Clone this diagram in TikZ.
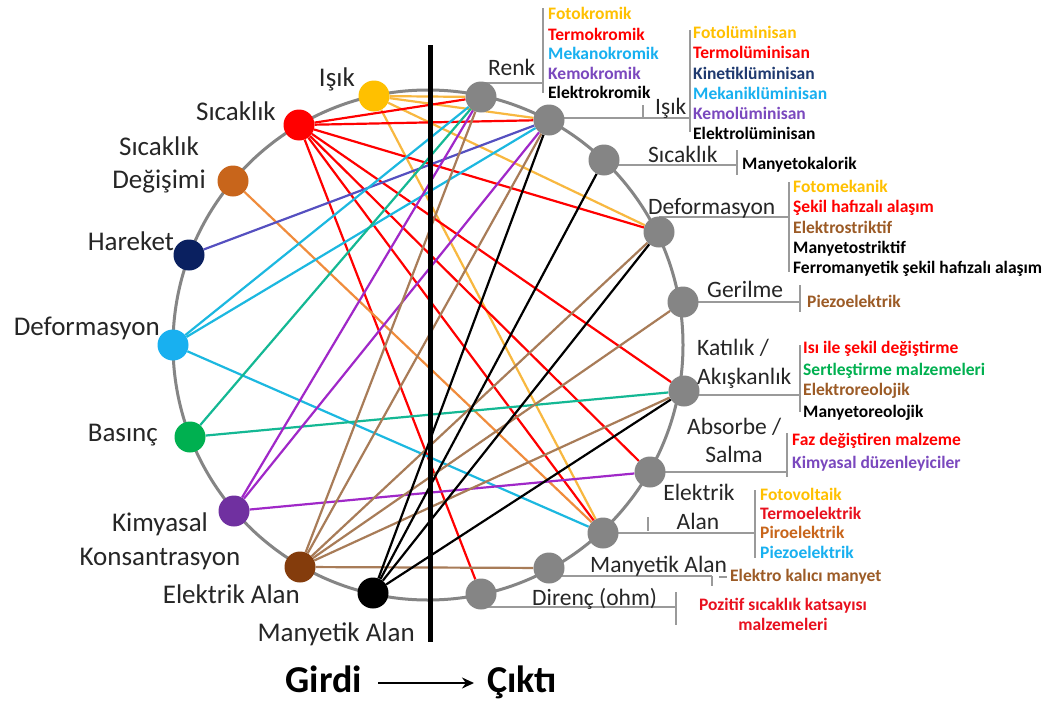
\documentclass[tikz,border=0pt]{standalone}
\usepackage{fontspec}
\setmainfont{Carlito}
\usetikzlibrary{backgrounds,arrows.meta}
\definecolor{cY}{HTML}{FFC000}
\definecolor{cYl}{HTML}{F8B840}
\definecolor{cR}{HTML}{FF0000}
\definecolor{cRt}{HTML}{E8101E}
\definecolor{cO}{HTML}{C8651B}
\definecolor{cOl}{HTML}{F08C3C}
\definecolor{cNv}{HTML}{0A2060}
\definecolor{cHl}{HTML}{5550C0}
\definecolor{cCy}{HTML}{18B0F0}
\definecolor{cCyl}{HTML}{1CB8E0}
\definecolor{cG}{HTML}{00B050}
\definecolor{cGl}{HTML}{14B894}
\definecolor{cP}{HTML}{7030A0}
\definecolor{cPl}{HTML}{A028C8}
\definecolor{cPt}{HTML}{7A48BE}
\definecolor{cB}{HTML}{843C0C}
\definecolor{cBl}{HTML}{A87C58}
\definecolor{cBt}{HTML}{9C5B26}
\definecolor{cK}{HTML}{1F3A70}
\definecolor{cGr}{HTML}{858585}
\definecolor{cGb}{HTML}{9A9A9A}
\begin{document}
\begin{tikzpicture}[x=1pt,y=-1pt,
  dot/.style={circle,minimum size=31pt,inner sep=0pt,draw=none},
  lab/.style={font=\fontsize{27}{31}\selectfont,inner sep=0pt,text=black!85},
  rlab/.style={font=\fontsize{23.5}{28}\selectfont,inner sep=0pt,text=black!85},
  itm/.style={font=\bfseries\fontsize{17.5}{20}\selectfont,inner sep=0pt,anchor=base west},
  con/.style={line width=2.2pt},
  brk/.style={draw=cGb,line width=2.5pt},
  tick/.style={draw=cGb,line width=1.2pt}]
\useasboundingbox (0,0) rectangle (1052,704);
% ---------- nodes on the circle ----------
\node[dot,fill=cY]  (iIs)  at (374,96)  {};
\node[dot,fill=cR]  (iSc)  at (299,125) {};
\node[dot,fill=cO]  (iSd)  at (233,181) {};
\node[dot,fill=cNv] (iHa)  at (189,255) {};
\node[dot,fill=cCy] (iDe)  at (173,345) {};
\node[dot,fill=cG]  (iBa)  at (190,437) {};
\node[dot,fill=cP]  (iKi)  at (234,511) {};
\node[dot,fill=cB]  (iEl)  at (300,567) {};
\node[dot,fill=black] (iMa) at (373,593) {};
\node[dot,fill=cGr] (oRe)  at (481,97)  {};
\node[dot,fill=cGr] (oIs)  at (549,120) {};
\node[dot,fill=cGr] (oSc)  at (604,160) {};
\node[dot,fill=cGr] (oDe)  at (659,232) {};
\node[dot,fill=cGr] (oGe)  at (683,302) {};
\node[dot,fill=cGr] (oKa)  at (684,391) {};
\node[dot,fill=cGr] (oAb)  at (650,472) {};
\node[dot,fill=cGr] (oEl)  at (603,533) {};
\node[dot,fill=cGr] (oMa)  at (549,568) {};
\node[dot,fill=cGr] (oDi)  at (481,594) {};
% ---------- bracket points ----------
\coordinate (bRe) at (543,83);  \coordinate (bRe1) at (543,8);   \coordinate (bRe2) at (543,93);
\coordinate (bIs) at (690,118); \coordinate (bIs1) at (690,30);  \coordinate (bIs2) at (690,132);
\coordinate (bSc) at (737,165); \coordinate (bSc1) at (737,150); \coordinate (bSc2) at (737,175);
\coordinate (bDe) at (789,217); \coordinate (bDe1) at (789,182); \coordinate (bDe2) at (789,272);
\coordinate (bGe) at (800,302); \coordinate (bGe1) at (800,285); \coordinate (bGe2) at (800,312);
\coordinate (bKa) at (800,395); \coordinate (bKa1) at (800,345); \coordinate (bKa2) at (800,412);
\coordinate (bAb) at (787,472); \coordinate (bAb1) at (787,433); \coordinate (bAb2) at (787,477);
\coordinate (bEl) at (755,533); \coordinate (bEl1) at (755,490); \coordinate (bEl2) at (755,558);
\coordinate (bMa) at (712,576); \coordinate (bMa1) at (712,576); \coordinate (bMa2) at (712,586);
\coordinate (bDi) at (676,607); \coordinate (bDi1) at (676,592); \coordinate (bDi2) at (676,625);
\begin{scope}[on background layer]
  \fill[white] (0,0) rectangle (1052,704);
  \draw[cGr,line width=3pt] (428,345) circle[radius=255];
  \foreach \n/\b in {oRe/bRe,oIs/bIs,oSc/bSc,oDe/bDe,oGe/bGe,oKa/bKa,oAb/bAb,oEl/bEl,oMa/bMa,oDi/bDi}{
    \draw[brk] (\n.center |- \b) -- (\b);
    \draw[brk] (\b1) -- (\b2);
  }
  % yellow
  \draw[con,cYl] (iIs) -- (oRe);
  \draw[con,cYl] (iIs) -- (oIs);
  \draw[con,cYl] (iIs) -- (oDe);
  \draw[con,cYl] (iIs) -- (oEl);
  % red
  \foreach \t in {oRe,oIs,oDe,oKa,oAb,oEl,oDi} \draw[con,cR] (iSc) -- (\t);
  % orange
  \draw[con,cOl] (iSd) -- (oEl);
  % hareket
  \draw[con,cHl] (iHa) -- (oIs);
  % deformasyon
  \foreach \t in {oRe,oIs,oEl} \draw[con,cCyl] (iDe) -- (\t);
  % basinc
  \foreach \t in {oRe,oKa} \draw[con,cGl] (iBa) -- (\t);
  % kimyasal
  \foreach \t in {oRe,oIs,oAb} \draw[con,cPl] (iKi) -- (\t);
  % elektrik
  \foreach \t in {oRe,oIs,oDe,oGe,oKa,oMa} \draw[con,cBl] (iEl) -- (\t);
  % manyetik
  \foreach \t in {oIs,oSc,oDe,oKa} \draw[con,black] (iMa) -- (\t);
\end{scope}
% small stray ticks
\coordinate (t1a) at (643,105); \coordinate (t1b) at (643,118);
\coordinate (t2a) at (648,517); \coordinate (t2b) at (648,531);
\coordinate (t3a) at (719,577); \coordinate (t3b) at (727,577);
\draw[tick] (t1a) -- (t1b);
\draw[tick] (t2a) -- (t2b);
\draw[tick] (t3a) -- (t3b);
% vertical divider
\coordinate (vt) at (430,45); \coordinate (vb) at (430,642);
\draw[black,line width=5pt] (vt) -- (vb);
% ---------- left labels ----------
\node[lab,anchor=base east] (lIs) at (355,86.6) {Işık};
\node[lab,anchor=base east] (lSc) at (276,120.6) {Sıcaklık};
\node[lab,anchor=base] (lSd1) at (159,155.6) {Sıcaklık};
\node[lab,anchor=base] (lSd2) at (159,188.6) {Değişimi};
\node[lab,anchor=base east] (lHa) at (174,250.6) {Hareket};
\node[lab,anchor=base east] (lDe) at (160,335.6) {Deformasyon};
\node[lab,anchor=base east] (lBa) at (158,441.6) {Basınç};
\node[lab,anchor=base] (lKi1) at (160,531.6) {Kimyasal};
\node[lab,anchor=base] (lKi2) at (160,565.6) {Konsantrasyon};
\node[lab,anchor=base east] (lEl) at (300,603.6) {Elektrik Alan};
\node[lab,anchor=base east] (lMa) at (415,641.6) {Manyetik Alan};
% ---------- right labels ----------
\node[rlab,anchor=base west] (rRe) at (488,75.5) {Renk};
\node[rlab,anchor=base west] (rIs) at (655,114.5) {Işık};
\node[rlab,anchor=base west] (rSc) at (648,162.5) {Sıcaklık};
\node[rlab,anchor=base west] (rDe) at (648,214.5) {Deformasyon};
\node[rlab,anchor=base west] (rGe) at (707,297.5) {Gerilme};
\node[rlab,anchor=base west] (rKa1) at (697,355.5) {Katılık /};
\node[rlab,anchor=base west] (rKa2) at (697,384.5) {Akışkanlık};
\node[rlab,anchor=base west] (rAb1) at (687,434.5) {Absorbe /};
\node[rlab,anchor=base] (rAb2) at (734,462.5) {Salma};
\node[rlab,anchor=base] (rEl1) at (699,500.5) {Elektrik};
\node[rlab,anchor=base] (rEl2) at (698,529.5) {Alan};
\node[rlab,anchor=base west] (rMa) at (590,572.5) {Manyetik Alan};
\node[rlab,anchor=base west] (rDi) at (532,605.5) {Direnç (ohm)};
% ---------- legend items ----------
\node[itm,text=cY]  (a1) at (548,19.6) {Fotokromik};
\node[itm,text=cR]  (a2) at (548,40.6) {Termokromik};
\node[itm,text=cCy] (a3) at (548,59.6) {Mekanokromik};
\node[itm,text=cPt] (a4) at (548,79.6) {Kemokromik};
\node[itm,text=black] (a5) at (548,98.6) {Elektrokromik};
\node[itm,text=cY]  (b1) at (693,38.6) {Fotolüminisan};
\node[itm,text=cR]  (b2) at (693,58.6) {Termolüminisan};
\node[itm,text=cK]  (b3) at (693,79.6) {Kinetiklüminisan};
\node[itm,text=cCy] (b4) at (693,99.6) {Mekaniklüminisan};
\node[itm,text=cPt] (b5) at (693,119.6) {Kemolüminisan};
\node[itm,text=black] (b6) at (693,139.6) {Elektrolüminisan};
\node[itm,text=black] (c1) at (742,169.6) {Manyetokalorik};
\node[itm,text=cY]  (d1) at (793,192.6) {Fotomekanik};
\node[itm,text=cR]  (d2) at (793,212.6) {Şekil hafızalı alaşım};
\node[itm,text=cBt] (d3) at (793,233.6) {Elektrostriktif};
\node[itm,text=black] (d4) at (793,253.6) {Manyetostriktif};
\node[itm,text=black] (d5) at (793,273.6) {Ferromanyetik şekil hafızalı alaşım};
\node[itm,text=cBt] (e1) at (807,307.6) {Piezoelektrik};
\node[itm,text=cR]  (f1) at (803,353.6) {Isı ile şekil değiştirme};
\node[itm,text=cG]  (f2) at (803,375.6) {Sertleştirme malzemeleri};
\node[itm,text=cBt] (f3) at (803,395.6) {Elektroreolojik};
\node[itm,text=black] (f4) at (803,417.6) {Manyetoreolojik};
\node[itm,text=cR]  (g1) at (792,445.6) {Faz değiştiren malzeme};
\node[itm,text=cPt] (g2) at (792,468.6) {Kimyasal düzenleyiciler};
\node[itm,text=cY]  (h1) at (760,500.6) {Fotovoltaik};
\node[itm,text=cRt] (h2) at (760,519.6) {Termoelektrik};
\node[itm,text=cO]  (h3) at (760,538.6) {Piroelektrik};
\node[itm,text=cCy] (h4) at (760,558.6) {Piezoelektrik};
\node[itm,text=cBt] (j1) at (730,581.6) {Elektro kalıcı manyet};
\node[itm,text=cRt,anchor=base] (k1) at (783,610.6) {Pozitif sıcaklık katsayısı};
\node[itm,text=cRt,anchor=base] (k2) at (783,630.6) {malzemeleri};
% ---------- Girdi -> Cikti ----------
\node[font=\bfseries\fontsize{38}{42}\selectfont,inner sep=0pt,anchor=base east] (gi) at (362,692) {Girdi};
\node[font=\bfseries\fontsize{38}{42}\selectfont,inner sep=0pt,anchor=base west] (ci) at (487,692) {Çıktı};
\coordinate (ar1) at (378,683); \coordinate (ar2) at (474,683);
\draw[line width=2.2pt,-{Stealth[length=12pt,width=11pt]}] (ar1) -- (ar2);
\end{tikzpicture}
\end{document}
